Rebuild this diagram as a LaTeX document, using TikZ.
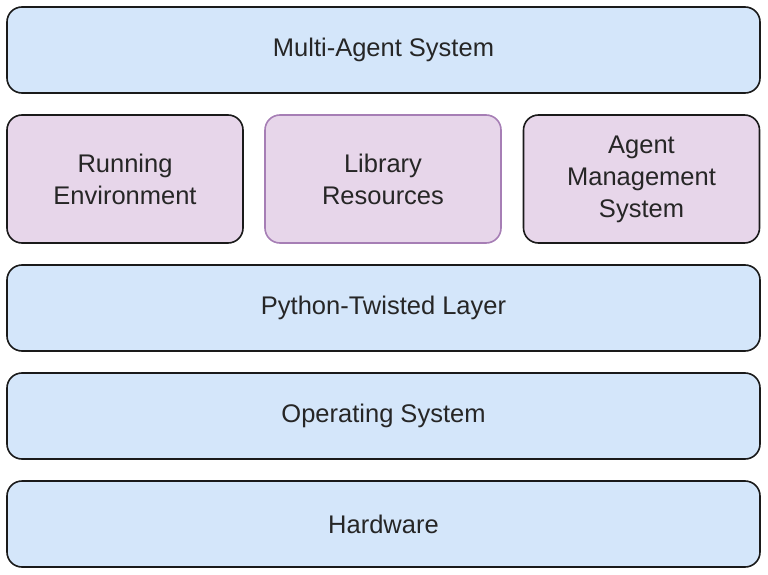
\documentclass[tikz,border=0pt]{standalone}
\usepackage{fontspec}
\setmainfont{Liberation Sans}
\definecolor{layerblue}{HTML}{D4E6FA}
\definecolor{modpurple}{HTML}{E7D6EA}
\definecolor{libborder}{HTML}{A67EB5}
\definecolor{edgeblack}{HTML}{1A1A1A}
\begin{document}
\begin{tikzpicture}[x=1pt,y=-1pt,
  box/.style={draw=edgeblack,line width=1.6pt,rounded corners=15pt,inner sep=0pt,
    align=center,font=\fontsize{25.5}{32}\selectfont,text=black!85},
  layer/.style={box,fill=layerblue,minimum width=753pt,minimum height=86pt},
  module/.style={box,fill=modpurple,minimum width=236pt,minimum height=128pt}]
\useasboundingbox (0,0) rectangle (768,575);
\node[layer] (mas) at (383.5,50) {Multi-Agent System};
\node[module] (run) at (125,179) {Running\\Environment};
\node[module,draw=libborder] (lib) at (383,179) {Library\\Resources};
\node[module] (ams) at (641.5,179) {Agent\\Management\\System};
\node[layer] (py) at (383.5,308) {Python-Twisted Layer};
\node[layer] (os) at (383.5,416) {Operating System};
\node[layer] (hw) at (383.5,524) {Hardware};
\end{tikzpicture}
\end{document}
